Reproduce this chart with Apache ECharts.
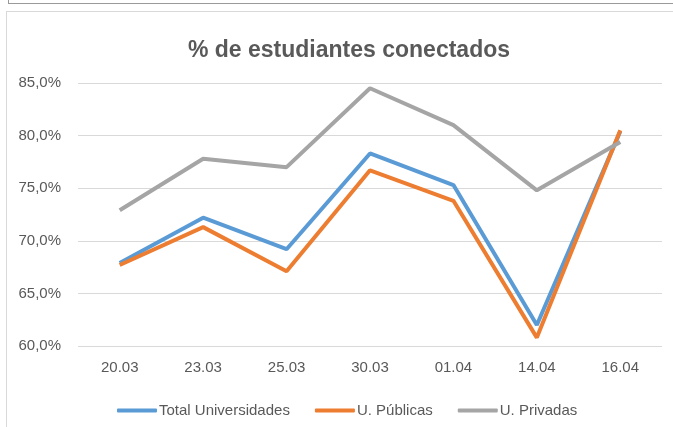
<!DOCTYPE html>
<html lang="es">
<head>
    <meta charset="utf-8">
    <title>% de estudiantes conectados</title>
    <script src="https://cdn.jsdelivr.net/npm/echarts@6/dist/echarts.min.js"></script>
    <style>
        html, body { margin: 0; padding: 0; background: #fff; }
        #wrap { position: relative; width: 673px; height: 427px; overflow: hidden; }
        #topbox { position: absolute; left: 8px; top: -2px; width: 700px; height: 4px; border: 1px solid #9a9a9a; }
        #frame { position: absolute; left: 6px; top: 11px; width: 700px; height: 430px; border: 1px solid #d9d9d9; }
        #main { position: absolute; left: 0; top: 0; width: 673px; height: 427px; }
    </style>
</head>
<body>
<div id="wrap">
    <div id="topbox"></div>
    <div id="frame"></div>
    <div id="main"></div>
</div>
<script type="text/javascript">
// fechas
var categories = ['20.03', '23.03', '25.03', '30.03', '01.04', '14.04', '16.04'];
// % conectados
var totalUniv = [67.9, 72.2, 69.2, 78.3, 75.3, 62.0, 80.4];
var uPublicas = [67.7, 71.3, 67.1, 76.7, 73.8, 60.8, 80.5];
var uPrivadas = [72.9, 77.8, 77.0, 84.5, 81.0, 74.8, 79.4];
var seriesNames = ['Total Universidades', 'U. Públicas', 'U. Privadas'];
var colors = ['#5B9BD5', '#ED7D31', '#A5A5A5'];

var myChart = echarts.init(document.getElementById('main'));
var txt = '#595959';
var font = 'Liberation Sans';

function mkSeries(name, data, c) {
    return {
        name: name,
        type: 'line',
        data: data,
        showSymbol: false,
        symbol: 'none',
        lineStyle: { width: 4, color: c },
        itemStyle: { color: c },
        animation: false
    };
}

myChart.setOption({
    animation: false,
    title: {
        text: '% de estudiantes conectados',
        left: 344,
        textAlign: 'center',
        top: 34,
        textStyle: { fontFamily: font, fontSize: 23, fontWeight: 'bold', color: txt }
    },
    legend: {
        data: seriesNames,
        left: 112,
        top: 398,
        icon: 'roundRect',
        itemWidth: 40,
        itemHeight: 4,
        itemGap: 25,
        textStyle: { fontFamily: font, fontSize: 15, color: txt, padding: [0, 0, 0, -3] }
    },
    grid: { left: 78, right: 11, top: 83, bottom: 81 },
    xAxis: {
        type: 'category',
        data: categories,
        boundaryGap: true,
        axisLine: { show: false },
        axisTick: { show: false },
        axisLabel: { fontFamily: font, fontSize: 15, color: txt, margin: 14 }
    },
    yAxis: {
        type: 'value',
        min: 60,
        max: 85,
        interval: 5,
        axisLine: { show: false },
        axisTick: { show: false },
        splitLine: { lineStyle: { color: '#d9d9d9', width: 1 } },
        axisLabel: {
            fontFamily: font, fontSize: 15, color: txt, margin: 17,
            formatter: function (v) { return v.toFixed(1).replace('.', ',') + '%'; }
        }
    },
    series: [
        mkSeries(seriesNames[0], totalUniv, colors[0]),
        mkSeries(seriesNames[1], uPublicas, colors[1]),
        mkSeries(seriesNames[2], uPrivadas, colors[2])
    ]
});
</script>
</body>
</html>
